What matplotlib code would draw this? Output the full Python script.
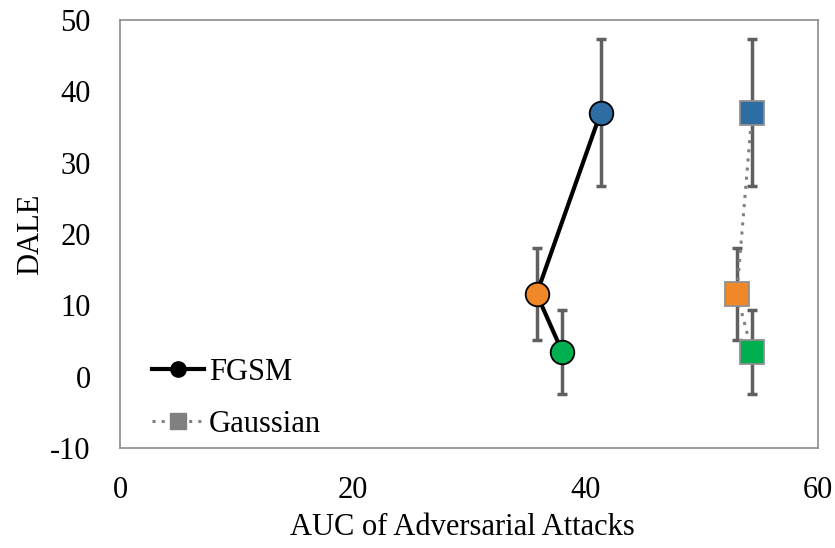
import matplotlib
matplotlib.use("Agg")
import matplotlib.pyplot as plt
from matplotlib.lines import Line2D

plt.rcParams['font.family'] = ['Liberation Serif', 'DejaVu Serif']
plt.rcParams['axes.unicode_minus'] = False

point_colors = ['#2E6DA4', '#F0882A', '#00B050']
fgsm_x = [41.3, 35.8, 38.0]
gauss_x = [54.3, 53.0, 54.3]
dale_y = [37.0, 11.6, 3.5]
dale_err = [10.3, 6.4, 5.9]
xticks = [0, 20, 40, 60]
yticks = [-10, 0, 10, 20, 30, 40, 50]

fig = plt.figure(figsize=(8.35, 5.48), dpi=100)
ax = fig.add_axes([0.1437, 0.1825, 0.8363, 0.781])

errc = '#606060'
for xs in (fgsm_x, gauss_x):
    ax.errorbar(xs, dale_y, yerr=dale_err, fmt='none', ecolor=errc,
                elinewidth=2.5, capsize=3.8, capthick=2.5, zorder=2)

ax.plot(fgsm_x, dale_y, color='black', lw=3, zorder=3)
ax.plot(gauss_x, dale_y, color='#808080', lw=2.2, ls=(0, (1, 2)), zorder=3)
for x, y, c in zip(fgsm_x, dale_y, point_colors):
    ax.plot([x], [y], 'o', ms=17, mfc=c, mec='black', mew=1.3, zorder=4)
for x, y, c in zip(gauss_x, dale_y, point_colors):
    ax.plot([x], [y], 's', ms=17, mfc=c, mec='#909090', mew=1.3, zorder=4)

ax.set_xlim(0, 60)
ax.set_ylim(-10, 50)
ax.set_xticks(xticks)
ax.set_yticks(yticks)
ax.tick_params(length=0, labelsize=22)
ax.tick_params(axis='x', pad=20)
ax.tick_params(axis='y', pad=21)
for s in ax.spines.values():
    s.set_color('#8C8C8C')
    s.set_linewidth(1.2)
ax.set_xlabel('AUC of Adversarial Attacks', fontsize=22)
ax.xaxis.set_label_coords(0.49, -0.152)
ax.set_ylabel('DALE', fontsize=22, labelpad=4)

handles = [
    Line2D([], [], color='black', lw=3, marker='o', ms=11, mfc='black', mec='black'),
    Line2D([], [], color='#808080', lw=2.2, ls=(0, (1, 2)), marker='s', ms=12, mfc='#808080', mec='#808080'),
]
ax.legend(handles, ['FGSM', 'Gaussian'], loc='lower left', frameon=False,
          fontsize=22, handlelength=1.7, handletextpad=0.15, labelspacing=0.75,
          borderpad=0, borderaxespad=0, bbox_to_anchor=(0.046, 0.021))

fig.savefig('out.png', dpi=100)
